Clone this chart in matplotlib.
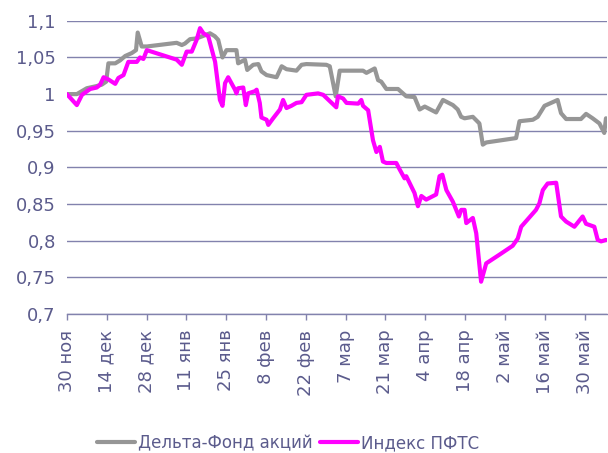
import matplotlib
matplotlib.use("Agg")
import matplotlib.pyplot as plt
from matplotlib.ticker import FuncFormatter

# days counted from 30 ноя
fund_days = [0, 3.5, 7.0, 10.5, 12.3, 13.8, 14.6, 17.0, 18.7, 20.5, 22.8, 24.3, 24.9, 26.3,
             28.1, 38.6, 40.4, 41.5, 43.3, 45.6, 50.3, 52.0, 53.2, 54.7, 56.1, 59.6, 60.2,
             62.6, 63.4, 65.5, 67.3, 68.4, 70.2, 73.7, 75.5, 77.2, 80.7, 82.5, 84.2, 91.2,
             92.4, 94.5, 95.9, 104.1, 105.3, 108.2, 109.4, 110.5, 112.3, 116.4, 119.3, 122.2,
             124.0, 125.8, 129.8, 132.2, 135.7, 137.4, 138.6, 139.8, 142.7, 145.0, 146.2,
             147.4, 157.9, 159.1, 163.8, 165.5, 167.9, 172.5, 173.7, 175.5, 180.7, 182.5,
             184.8, 187.2, 188.9, 189.5]
fund_vals = [1.000, 1.000, 1.008, 1.011, 1.013, 1.017, 1.042, 1.042, 1.046, 1.052, 1.056,
             1.060, 1.084, 1.065, 1.065, 1.070, 1.067, 1.069, 1.075, 1.076, 1.083, 1.079,
             1.074, 1.050, 1.060, 1.060, 1.042, 1.047, 1.033, 1.040, 1.041, 1.031, 1.026,
             1.023, 1.038, 1.034, 1.032, 1.040, 1.041, 1.040, 1.038, 0.997, 1.032, 1.032,
             1.029, 1.035, 1.019, 1.017, 1.007, 1.007, 0.997, 0.996, 0.979, 0.983, 0.975,
             0.992, 0.985, 0.979, 0.969, 0.967, 0.969, 0.960, 0.931, 0.934, 0.940, 0.963,
             0.965, 0.969, 0.984, 0.992, 0.974, 0.966, 0.966, 0.973, 0.967, 0.960, 0.947,
             0.967]

pfts_days = [0, 3.5, 5.3, 8.2, 10.5, 11.7, 12.9, 14.6, 17.0, 18.1, 19.9, 21.6, 24.6, 25.7,
             26.9, 28.1, 38.6, 40.4, 42.1, 43.9, 45.6, 46.8, 48.0, 49.7, 52.1, 53.8, 54.7,
             55.6, 56.7, 59.1, 59.6, 60.2, 62.0, 62.9, 63.7, 66.1, 66.7, 67.8, 68.4, 70.2,
             70.8, 72.5, 74.9, 76.0, 77.2, 78.9, 80.7, 82.5, 84.2, 88.3, 90.1, 94.7, 95.3,
             97.1, 98.3, 102.4, 103.5, 104.1, 105.9, 107.6, 108.8, 110.0, 111.1, 112.3,
             115.8, 117.0, 118.7, 119.3, 122.2, 123.4, 124.6, 126.3, 129.8, 131.0, 132.0,
             133.4, 135.7, 137.8, 138.6, 139.8, 140.4, 142.7, 143.9, 145.6, 147.4, 152.1,
             156.7, 158.5, 159.7, 164.9, 166.1, 167.3, 169.0, 172.0, 173.7, 175.5, 178.4,
             181.3, 182.5, 185.4, 186.6, 187.8, 189.5]
pfts_vals = [1.000, 0.985, 0.999, 1.007, 1.009, 1.013, 1.023, 1.020, 1.014, 1.022, 1.026,
             1.044, 1.044, 1.050, 1.048, 1.060, 1.047, 1.040, 1.058, 1.058, 1.074, 1.090,
             1.083, 1.079, 1.044, 0.992, 0.984, 1.015, 1.023, 1.006, 1.001, 1.008, 1.009,
             0.985, 1.001, 1.004, 1.006, 0.988, 0.968, 0.965, 0.958, 0.967, 0.979, 0.992,
             0.981, 0.984, 0.988, 0.989, 0.999, 1.001, 0.999, 0.982, 0.997, 0.994, 0.988,
             0.987, 0.992, 0.984, 0.978, 0.937, 0.921, 0.928, 0.908, 0.906, 0.906, 0.897,
             0.885, 0.888, 0.865, 0.847, 0.861, 0.856, 0.863, 0.888, 0.890, 0.869, 0.853,
             0.833, 0.842, 0.842, 0.824, 0.831, 0.810, 0.744, 0.769, 0.781, 0.793, 0.803,
             0.819, 0.842, 0.851, 0.869, 0.878, 0.879, 0.833, 0.826, 0.819, 0.833, 0.823,
             0.819, 0.801, 0.799, 0.801]

tick_days = [0, 14, 28, 42, 56, 70, 84, 98, 112, 126, 140, 154, 168, 182]
tick_labels = ["30 ноя", "14 дек", "28 дек", "11 янв", "25 янв", "8 фев", "22 фев",
               "7 мар", "21 мар", "4 апр", "18 апр", "2 май", "16 май", "30 май"]
y_ticks = [0.7, 0.75, 0.8, 0.85, 0.9, 0.95, 1.0, 1.05, 1.1]

txt_color = "#5b5b8c"
grid_color = "#8282ad"

fig = plt.figure(figsize=(6.08, 4.53), dpi=100)
ax = fig.add_axes([0.110, 0.307, 0.889, 0.647])

ax.plot(fund_days, fund_vals, color="#969696", lw=3.0, solid_joinstyle="round",
        solid_capstyle="round", label="Дельта-Фонд акций")
ax.plot(pfts_days, pfts_vals, color="#ff00ff", lw=3.0, solid_joinstyle="round",
        solid_capstyle="round", label="Индекс ПФТС")

ax.set_xlim(0, 190)
ax.set_ylim(0.7, 1.1)
ax.set_yticks(y_ticks)
ax.yaxis.set_major_formatter(FuncFormatter(lambda v, p: f"{v:g}".replace(".", ",")))
ax.set_xticks(tick_days)
ax.set_xticklabels(tick_labels, rotation=90)

ax.grid(axis="y", color=grid_color, lw=1.0)
ax.set_axisbelow(True)
for side in ["top", "right", "left"]:
    ax.spines[side].set_visible(False)
ax.spines["bottom"].set_color(grid_color)
ax.spines["bottom"].set_linewidth(1.0)

ax.tick_params(axis="y", length=0, pad=8, labelsize=13, labelcolor=txt_color)
ax.tick_params(axis="x", length=4.3, width=1, color=grid_color, pad=7,
               labelsize=13, labelcolor=txt_color)

leg = fig.legend(loc="center", bbox_to_anchor=(0.474, 0.022), ncol=2, frameon=False,
                 fontsize=12, handlelength=2.3, handletextpad=0.2, columnspacing=0.4)
for t in leg.get_texts():
    t.set_color(txt_color)

fig.savefig("out.png", dpi=100)
